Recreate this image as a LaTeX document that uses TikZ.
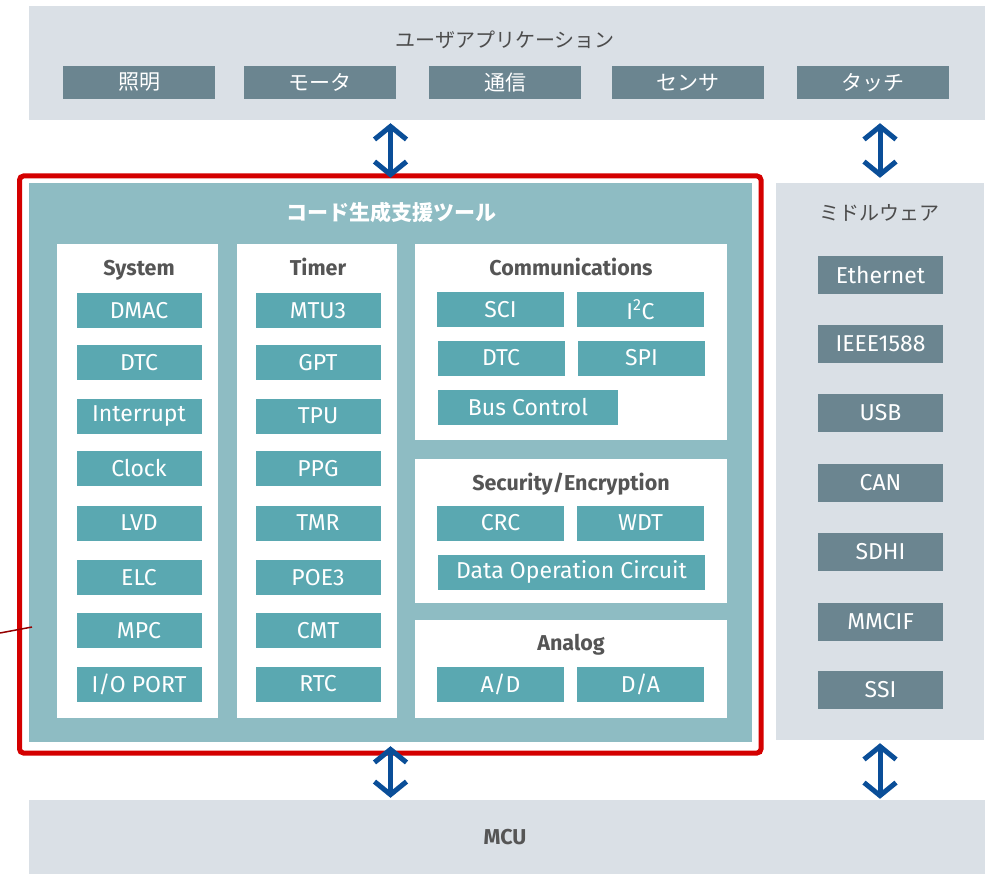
\documentclass[tikz,border=0pt]{standalone}
\usepackage{fontspec}
\setmainfont{Fira Sans}
\newfontfamily\jpfont{Noto Sans CJK JP}
\usetikzlibrary{
    arrows.meta,
    positioning
}
\definecolor{bandgray}{HTML}{DAE0E6}
\definecolor{appgray}{HTML}{6B8590}
\definecolor{panelteal}{HTML}{8EBCC3}
\definecolor{itemteal}{HTML}{5AA8B1}
\definecolor{framered}{HTML}{D40000}
\definecolor{arrowblue}{HTML}{0A4E98}
\definecolor{headgray}{HTML}{555555}
\tikzset{
    band/.style={fill=bandgray, inner sep=0pt},
    panel/.style={fill=white, inner sep=0pt},
    head/.style={text=headgray, text height=17pt, text depth=2pt, inner sep=0pt,
        font=\bfseries\fontsize{21.5}{21.5}\selectfont},
    jphead/.style={text=headgray!90!black, font=\jpfont\fontsize{20}{20}\selectfont},
    appbox/.style={fill=appgray, text=white, minimum width=152pt, minimum height=33pt,
        inner sep=0pt, font=\jpfont\fontsize{21}{21}\selectfont},
    item/.style={fill=itemteal, text=white, minimum width=125pt, minimum height=35pt,
        inner sep=0pt, font=\fontsize{23}{23}\selectfont},
    miditem/.style={fill=appgray, text=white, minimum width=125pt, minimum height=38pt,
        inner sep=0pt, font=\fontsize{23}{23}\selectfont},
    updown/.style={{Straight Barb[length=13pt,width=32pt]}-{Straight Barb[length=13pt,width=32pt]},
        line width=5pt, arrowblue}
}
\begin{document}
\begin{tikzpicture}[x=1pt, y=-1pt]
    \useasboundingbox (0, 0) rectangle (992, 874);
    % user application
    \node[band, minimum width=956pt, minimum height=114pt] (app) at (507, 63) {};
    \node[jphead] (apptitle) at (505, 40) {ユーザアプリケーション};
    \node[appbox] (light) at (139, 82.5) {照明};
    \node[appbox] (motor) at (320, 82.5) {モータ};
    \node[appbox] (comm) at (505, 82.5) {通信};
    \node[appbox] (sensor) at (688, 82.5) {センサ};
    \node[appbox] (touch) at (872.5, 82.5) {タッチ};
    % code generation tool
    \node[fill=panelteal, inner sep=0pt, minimum width=723pt, minimum height=559pt] (codegen) at (390.5, 462.5) {};
    \node[text=white, font=\jpfont\bfseries\fontsize{21}{21}\selectfont] (cgtitle) at (391, 213) {コード生成支援ツール};
    \draw[framered, line width=5pt, rounded corners=4pt] (19.5, 176) rectangle (761, 753);
    \draw[color=framered!70!black, line width=1.5pt] (0, 633) -- (32, 627);
    % system
    \node[panel, minimum width=161pt, minimum height=474pt] (sys) at (137.5, 481) {};
    \node[head] (systitle) at (139, 268) {System};
    \node[item] (dmac) at (139, 310.5) {DMAC};
    \node[item] (dtc) at (139, 362.5) {DTC};
    \node[item] (intr) at (139, 416) {Interrupt};
    \node[item] (clock) at (139, 468.5) {Clock};
    \node[item] (lvd) at (139, 523) {LVD};
    \node[item] (elc) at (139, 577.5) {ELC};
    \node[item] (mpc) at (139, 630.5) {MPC};
    \node[item] (ioport) at (139, 684) {I/O PORT};
    % timer
    \node[panel, minimum width=160pt, minimum height=474pt] (tmr) at (317, 481) {};
    \node[head] (tmrtitle) at (318, 268) {Timer};
    \node[item] (mtu) at (318, 310.5) {MTU3};
    \node[item] (gpt) at (318, 362.5) {GPT};
    \node[item] (tpu) at (318, 416) {TPU};
    \node[item] (ppg) at (318, 468.5) {PPG};
    \node[item] (tmrunit) at (318, 523) {TMR};
    \node[item] (poe) at (318, 577.5) {POE3};
    \node[item] (cmt) at (318, 630.5) {CMT};
    \node[item] (rtc) at (318, 684) {RTC};
    % communications
    \node[panel, minimum width=312pt, minimum height=196pt] (com) at (571, 342) {};
    \node[head] (comtitle) at (571, 268) {Communications};
    \node[item, minimum width=127pt] (sci) at (500.5, 309.5) {SCI};
    \node[item, minimum width=127pt] (iic) at (640.5, 309.5) {I\textsuperscript{2}C};
    \node[item, minimum width=127pt] (comdtc) at (501, 358) {DTC};
    \node[item, minimum width=127pt] (spi) at (641.5, 358) {SPI};
    \node[item, minimum width=180pt] (bus) at (528, 407) {Bus Control};
    % security
    \node[panel, minimum width=312pt, minimum height=144pt] (sec) at (571, 531) {};
    \node[head] (sectitle) at (571, 483) {Security/Encryption};
    \node[item, minimum width=127pt] (crc) at (500.5, 523) {CRC};
    \node[item, minimum width=127pt] (wdt) at (640.5, 523) {WDT};
    \node[item, minimum width=267pt] (doc) at (571.5, 572) {Data Operation Circuit};
    % analog
    \node[panel, minimum width=312pt, minimum height=98pt] (ana) at (571, 669) {};
    \node[head] (anatitle) at (571, 643) {Analog};
    \node[item, minimum width=127pt] (adc) at (500.5, 684.5) {A/D};
    \node[item, minimum width=127pt] (dac) at (640.5, 684.5) {D/A};
    % middleware
    \node[band, minimum width=208pt, minimum height=557pt] (mid) at (880, 461.5) {};
    \node[jphead] (midtitle) at (879, 213) {ミドルウェア};
    \node[miditem] (eth) at (880.5, 275) {Ethernet};
    \node[miditem] (ieee) at (880.5, 344) {IEEE1588};
    \node[miditem] (usb) at (880.5, 412.5) {USB};
    \node[miditem] (can) at (880.5, 483) {CAN};
    \node[miditem] (sdhi) at (880.5, 552) {SDHI};
    \node[miditem] (mmcif) at (880.5, 621.5) {MMCIF};
    \node[miditem] (ssi) at (880.5, 690) {SSI};
    % mcu
    \node[band, minimum width=956pt, minimum height=74pt] (mcu) at (507, 837) {};
    \node[head] (mcutitle) at (505, 837) {MCU};
    % arrows
    \draw[updown] ([yshift=-3pt]app.south -| codegen.north) -- ([yshift=5pt]codegen.north);
    \draw[updown] ([yshift=-3pt]app.south -| mid.north) -- ([yshift=5pt]mid.north);
    \draw[updown] ([yshift=-4pt]codegen.south) -- ([yshift=2pt]mcu.north -| codegen.south);
    \draw[updown] ([yshift=-3pt]mid.south) -- ([yshift=1pt]mcu.north -| mid.south);
\end{tikzpicture}
\end{document}
